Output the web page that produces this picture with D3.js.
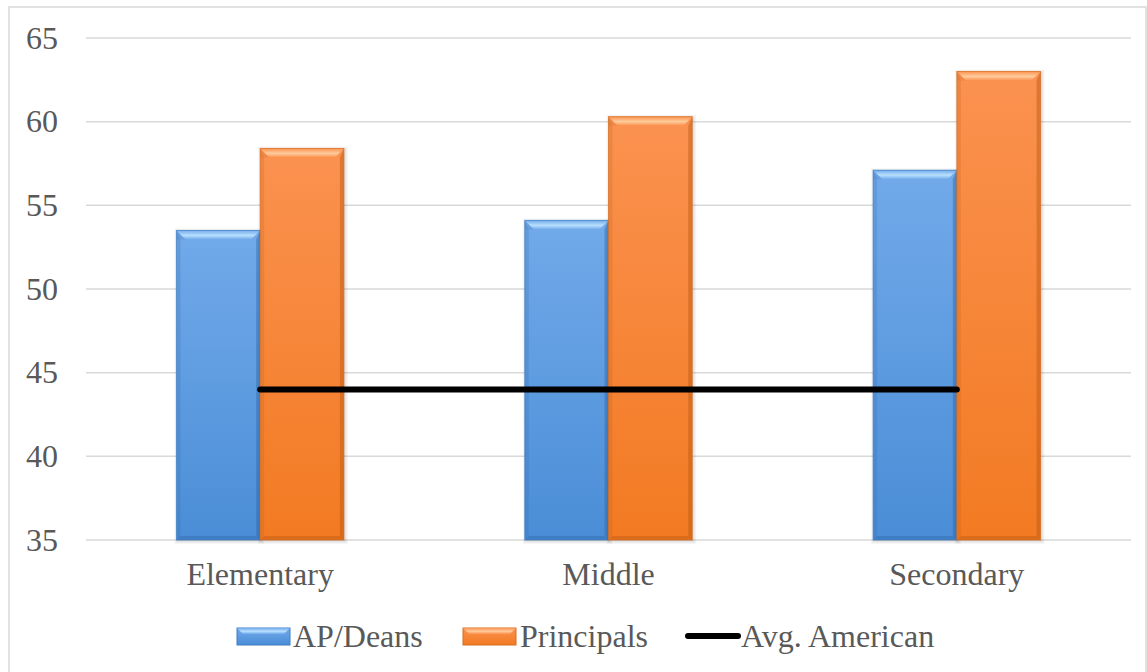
<!DOCTYPE html>
<html>
<head>
<meta charset="utf-8">
<script src="https://cdnjs.cloudflare.com/ajax/libs/d3/7.8.5/d3.min.js"></script>
</head>
<body style="margin:0;background:#fff">
<svg id="chart" width="1147" height="672" style="display:block"></svg>
<script>
// Chart data
const categories = ["Elementary", "Middle", "Secondary"];
const apDeans = [53.5, 54.1, 57.1];
const principals = [58.4, 60.3, 63.0];
const avgAmerican = [44, 44, 44];
const yTicks = [35, 40, 45, 50, 55, 60, 65];
const seriesNames = ["AP/Deans", "Principals", "Avg. American"];

const W = 1147, H = 672;
const margin = { left: 86, right: 16, top: 38, bottom: 132 };
const svg = d3.select("#chart");
const defs = svg.append("defs");

const textColor = "#595959";
const fontSize = 32;

// Palettes for bevelled bars
const palettes = {
  blue:   { top: "#72aaea", bottom: "#4a8dd6", light: "#b8e0ff", dark: "#2f66a8", edge: "#3f7fc4" },
  orange: { top: "#fb9250", bottom: "#f27a22", light: "#ffcc9c", dark: "#b85812", edge: "#d86c1e" }
};

Object.entries(palettes).forEach(([k, p]) => {
  const g = defs.append("linearGradient").attr("id", "grad-" + k)
    .attr("x1", 0).attr("y1", 0).attr("x2", 0).attr("y2", 1);
  g.append("stop").attr("offset", "0%").attr("stop-color", p.top);
  g.append("stop").attr("offset", "100%").attr("stop-color", p.bottom);
  const t = defs.append("linearGradient").attr("id", "bev-" + k)
    .attr("x1", 0).attr("y1", 0).attr("x2", 0).attr("y2", 1);
  t.append("stop").attr("offset", "0%").attr("stop-color", p.top).attr("stop-opacity", 1);
  t.append("stop").attr("offset", "55%").attr("stop-color", p.light).attr("stop-opacity", 1);
  t.append("stop").attr("offset", "100%").attr("stop-color", p.top).attr("stop-opacity", 1);
});

// Outer frame
svg.append("rect").attr("x", 9).attr("y", 7).attr("width", W - 10).attr("height", H + 10)
  .attr("fill", "#fff").attr("stroke", "#d9d9d9").attr("stroke-width", 1.5);

const x0 = d3.scaleBand().domain(categories).range([margin.left, W - margin.right]);
const x1 = d3.scaleBand().domain([0, 1]).range([0, x0.bandwidth()]).paddingOuter(1.08).paddingInner(0);
const y = d3.scaleLinear().domain([35, 65]).range([H - margin.bottom, margin.top]);

function styleText(sel) {
  sel.style("font", `${fontSize}px "Liberation Serif", serif`)
    .style("fill", textColor);
}

// Gridlines
svg.append("g").selectAll("line").data(yTicks).join("line")
  .attr("x1", margin.left).attr("x2", W - margin.right)
  .attr("y1", d => y(d)).attr("y2", d => y(d))
  .attr("stroke", "#d9d9d9").attr("stroke-width", 1.5);

// Y axis labels
const yAxis = d3.axisLeft(y).tickValues(yTicks).tickSize(0).tickPadding(28);
const ya = svg.append("g").attr("transform", `translate(${margin.left},0)`).call(yAxis);
ya.select(".domain").remove();
ya.attr("font-family", null).attr("font-size", null);
ya.selectAll("text").call(styleText);

// Bars: soft shadow layers, gradient body, bevelled edges
function drawBar(g, x, yTop, w, yBase, pal) {
  const h = yBase - yTop;
  const p = palettes[pal];
  const bv = Math.min(9, h / 2);
  const bar = g.append("g");
  [4, 3, 2, 1].forEach(s => {
    bar.append("rect").attr("x", x - s + 2).attr("y", yTop - s + 2)
      .attr("width", w + 2 * s - 2).attr("height", h + 2 * s - 2)
      .attr("fill", "#000").attr("opacity", 0.035);
  });
  bar.append("rect").attr("x", x).attr("y", yTop).attr("width", w).attr("height", h)
    .attr("fill", `url(#grad-${pal})`);
  bar.append("polygon").attr("points",
    [[x, yTop], [x + 4, yTop + bv], [x + 4, yBase - 4], [x, yBase]].map(d => d.join(",")).join(" "))
    .attr("fill", p.dark).attr("opacity", 0.2);
  bar.append("polygon").attr("points",
    [[x + w, yTop], [x + w - 4, yTop + bv], [x + w - 4, yBase - 4], [x + w, yBase]].map(d => d.join(",")).join(" "))
    .attr("fill", p.dark).attr("opacity", 0.45);
  bar.append("polygon").attr("points",
    [[x, yBase], [x + 4, yBase - 4], [x + w - 4, yBase - 4], [x + w, yBase]].map(d => d.join(",")).join(" "))
    .attr("fill", p.dark).attr("opacity", 0.4);
  bar.append("polygon").attr("points",
    [[x, yTop], [x + w, yTop], [x + w - bv, yTop + bv], [x + bv, yTop + bv]].map(d => d.join(",")).join(" "))
    .attr("fill", `url(#bev-${pal})`);
  bar.append("polygon").attr("points",
    [[x, yTop], [x + bv, yTop + bv], [x, yTop + bv]].map(d => d.join(",")).join(" "))
    .attr("fill", p.dark).attr("opacity", 0.15);
  bar.append("rect").attr("x", x).attr("y", yTop).attr("width", w).attr("height", h)
    .attr("fill", "none").attr("stroke", p.edge).attr("stroke-opacity", 0.7).attr("stroke-width", 1);
}

const barsG = svg.append("g");
categories.forEach((c, i) => {
  const base = y(35);
  drawBar(barsG, x0(c) + x1(0), y(apDeans[i]), x1.bandwidth(), base, "blue");
  drawBar(barsG, x0(c) + x1(1), y(principals[i]), x1.bandwidth(), base, "orange");
});

// Average line
const line = d3.line().x((d, i) => x0(categories[i]) + x0.bandwidth() / 2).y(d => y(d));
svg.append("path").datum(avgAmerican).attr("d", line)
  .attr("fill", "none").attr("stroke", "#000").attr("stroke-width", 6).attr("stroke-linecap", "round");

// Category labels
const xAxis = d3.axisBottom(x0).tickSize(0).tickPadding(22);
const xa = svg.append("g").attr("transform", `translate(0,${y(35)})`).call(xAxis);
xa.select(".domain").remove();
xa.attr("font-family", null).attr("font-size", null);
xa.selectAll("text").call(styleText);

// Legend
const legY = 636;
const leg = svg.append("g");
function legendBar(x, pal) {
  const p = palettes[pal];
  const g = leg.append("g");
  const w = 53, h = 17, yy = legY - 8;
  g.append("rect").attr("x", x).attr("y", yy).attr("width", w).attr("height", h).attr("fill", `url(#grad-${pal})`)
    .attr("stroke", p.edge).attr("stroke-width", 1);
  g.append("polygon").attr("points",
    [[x, yy], [x + w, yy], [x + w - 6, yy + 6], [x + 6, yy + 6]].map(d => d.join(",")).join(" "))
    .attr("fill", `url(#bev-${pal})`);
}
legendBar(237, "blue");
legendBar(463, "orange");
leg.append("line").attr("x1", 688).attr("x2", 738).attr("y1", legY).attr("y2", legY)
  .attr("stroke", "#000").attr("stroke-width", 6).attr("stroke-linecap", "round");
[[293, 0], [520, 1], [741, 2]].forEach(([x, i]) => {
  leg.append("text").attr("x", x).attr("y", legY).attr("dy", "0.35em")
    .call(styleText).text(seriesNames[i]);
});
</script>
</body>
</html>
